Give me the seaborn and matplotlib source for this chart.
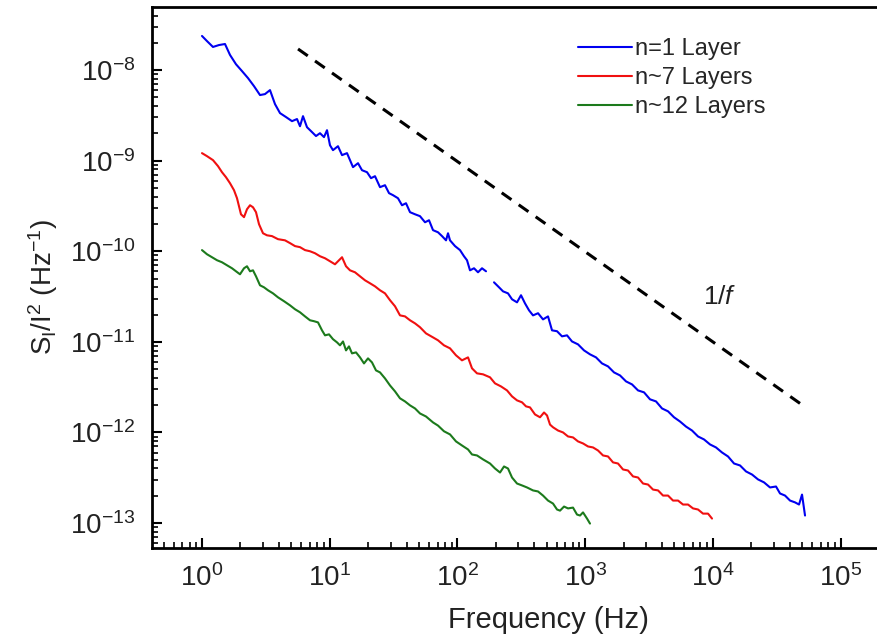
import numpy as np
import pandas as pd
import matplotlib
matplotlib.use("Agg")
import matplotlib.pyplot as plt
import seaborn as sns
from matplotlib.ticker import (FixedLocator, LogLocator, NullFormatter,
                               LogFormatterSciNotation)

# Normalised current noise spectra S_I/I^2 versus frequency for three samples
labels = ["n=1 Layer", "n~7 Layers", "n~12 Layers"]
colors = ["#0000f0", "#f01010", "#1c7a1c"]

# single layer (a NaN marks the missing stretch of the spectrum)
freq_1layer = [1.000, 1.094, 1.219, 1.359, 1.514, 1.657, 1.846, 2.057, 2.292, 2.554,
               2.846, 3.113, 3.408, 3.730, 4.082, 4.549, 5.068, 5.546, 5.853, 6.179,
               6.643, 7.138, 7.811, 8.395, 9.024, 9.526, 10.05,
               10.61, 11.61, 12.49, 13.66, 14.42, 15.22, 16.66, 17.90, 19.60, 21.06,
               22.63, 24.77, 27.10, 29.14, 31.31, 34.25, 36.83, 39.58, 42.55, 46.56,
               50.94, 55.76, 59.94, 64.42, 70.49, 75.76, 81.43, 84.42, 87.52, 95.8,
               104.8, 112.6, 118.9, 125.5, 134.9, 145.0, 155.8, 167.5,
               180.0,
               193.5, 211.8, 227.6, 249.0, 267.7, 292.9, 314.8, 338.3, 363.6, 390.9,
               427.9, 468.1, 512.3, 550.6, 602.6, 659.4, 721.6, 789.5, 879.9, 980.4,
               1092, 1217, 1356, 1511, 1684, 1876, 2091, 2330, 2596, 2893, 3223, 3591,
               4001, 4459, 4968, 5536, 6168, 6873, 7658, 8532, 9509, 10590, 11800,
               13150, 14660, 16330, 18200, 20280, 22590, 25170, 28050, 31250, 33590,
               36760, 40230, 44020, 47320, 49950, 52720]
psd_1layer = [2.38e-8, 2.09e-8, 1.80e-8, 1.89e-8, 1.94e-8, 1.47e-8, 1.16e-8, 9.75e-9,
              8.16e-9, 6.65e-9, 5.30e-9, 5.43e-9, 6.01e-9, 4.21e-9, 3.35e-9, 3.03e-9,
              2.73e-9, 2.88e-9, 2.40e-9, 3.10e-9, 2.34e-9, 2.12e-9, 1.87e-9, 2.01e-9,
              1.82e-9, 2.17e-9, 1.48e-9,
              1.306e-9, 1.445e-9, 1.151e-9, 1.211e-9, 1.014e-9, 8.48e-10, 9.38e-10,
              7.85e-10, 7.46e-10, 6.41e-10, 6.74e-10, 5.10e-10, 5.36e-10, 4.38e-10,
              4.16e-10, 3.85e-10, 3.22e-10, 3.39e-10, 2.70e-10, 2.56e-10, 2.44e-10,
              2.09e-10, 2.20e-10, 1.71e-10, 1.62e-10, 1.47e-10, 1.32e-10, 1.58e-10,
              1.32e-10, 1.14e-10, 1.03e-10, 8.81e-11, 7.96e-11, 6.16e-11, 6.49e-11,
              5.86e-11, 6.49e-11, 6.01e-11,
              np.nan,
              4.54e-11, 4.00e-11, 3.61e-11, 3.43e-11, 2.95e-11, 2.73e-11, 3.27e-11,
              2.66e-11, 2.23e-11, 1.96e-11, 2.07e-11, 1.77e-11, 1.91e-11, 1.34e-11,
              1.31e-11, 1.15e-11, 1.18e-11, 1.01e-11, 9.38e-12, 8.05e-12, 7.28e-12,
              6.74e-12, 5.78e-12, 5.36e-12, 4.60e-12, 4.26e-12, 3.66e-12, 3.39e-12,
              2.91e-12, 2.77e-12, 2.32e-12, 2.20e-12, 1.84e-12, 1.71e-12, 1.47e-12,
              1.32e-12, 1.16e-12, 1.05e-12, 9.03e-13, 8.37e-13, 7.37e-13, 6.83e-13,
              6.01e-13, 5.43e-13, 4.54e-13, 4.32e-13, 3.71e-13, 3.43e-13, 3.03e-13,
              2.81e-13, 2.47e-13, 2.53e-13, 2.12e-13, 2.01e-13, 1.77e-13, 1.69e-13,
              1.60e-13, 2.06e-13, 1.21e-13]

freq_7layers = [1.000, 1.094, 1.219, 1.335, 1.434, 1.541, 1.657, 1.781, 1.880, 2.020,
                2.133, 2.251, 2.377, 2.508, 2.648, 2.795, 3.004, 3.228, 3.533, 3.937,
                4.467, 4.888, 5.350, 5.853, 6.407, 7.010, 7.672, 8.395, 9.189, 10.05,
                11.00, 11.83, 12.49, 13.42, 14.42, 15.78, 17.27, 18.90, 20.69, 22.63,
                24.77, 27.10, 29.67, 32.46, 35.52, 38.87, 42.55, 46.56, 50.94, 56.77,
                64.42, 70.49, 78.52, 87.52, 97.5, 108.6, 121.1, 130.1, 142.4, 158.7,
                180.0, 197.0, 219.5, 244.6, 267.7, 292.9, 320.6, 344.5, 370.2, 405.2,
                443.5, 476.7, 503.2, 531.2, 560.7, 613.5, 671.4, 734.7, 803.9, 879.9,
                962.8, 1054, 1153, 1262, 1381, 1511, 1654, 1809, 1981, 2167, 2372, 2596,
                2841, 3109, 3402, 3724, 4074, 4459, 4879, 5340, 5843, 6394, 6998, 7658,
                8381, 9171, 9856]
psd_7layers = [1.211e-9, 1.122e-9, 1.014e-9, 8.70e-10, 7.46e-10, 6.57e-10, 5.64e-10,
               4.72e-10, 3.85e-10, 2.56e-10, 2.38e-10, 2.91e-10, 3.22e-10, 3.06e-10,
               2.70e-10, 1.99e-10, 1.58e-10, 1.50e-10, 1.47e-10, 1.36e-10, 1.32e-10,
               1.23e-10, 1.14e-10, 1.11e-10, 1.03e-10, 1.00e-10, 9.51e-11, 8.81e-11,
               8.37e-11, 7.76e-11, 7.18e-11, 7.96e-11, 8.59e-11, 6.83e-11, 6.16e-11,
               5.86e-11, 5.29e-11, 4.78e-11, 4.43e-11, 4.10e-11, 3.71e-11, 3.43e-11,
               2.88e-11, 2.47e-11, 1.96e-11, 1.91e-11, 1.73e-11, 1.60e-11, 1.45e-11,
               1.24e-11, 1.12e-11, 1.04e-11, 9.15e-12, 8.48e-12, 7.10e-12, 6.25e-12,
               6.74e-12, 5.10e-12, 4.49e-12, 4.38e-12, 4.06e-12, 3.48e-12, 3.22e-12,
               2.91e-12, 2.50e-12, 2.26e-12, 2.15e-12, 1.94e-12, 1.89e-12, 1.58e-12,
               1.47e-12, 1.66e-12, 1.54e-12, 1.22e-12, 1.14e-12, 1.05e-12, 1.00e-12,
               9.03e-13, 8.81e-13, 7.96e-13, 7.56e-13, 7.00e-13, 6.83e-13, 6.32e-13,
               5.57e-13, 5.43e-13, 4.67e-13, 4.54e-13, 3.90e-13, 3.80e-13, 3.27e-13,
               3.18e-13, 2.73e-13, 2.66e-13, 2.34e-13, 2.29e-13, 2.01e-13, 2.01e-13,
               1.77e-13, 1.77e-13, 1.60e-13, 1.60e-13, 1.45e-13, 1.41e-13, 1.27e-13,
               1.27e-13, 1.12e-13]

freq_12layers = [1.000, 1.094, 1.198, 1.311, 1.434, 1.570, 1.718, 1.846, 1.984, 2.133,
                 2.251, 2.377, 2.508, 2.648, 2.846, 3.058, 3.287, 3.597, 3.937, 4.386,
                 4.888, 5.350, 5.853, 6.407, 7.010, 7.536, 8.099, 8.704, 9.189, 9.874,
                 10.61, 11.41, 12.04, 12.71, 13.42, 14.16, 14.95, 16.07, 17.27, 18.56,
                 19.95, 21.44, 23.04, 24.77, 27.10, 29.67, 32.46, 35.52, 38.87, 42.55,
                 46.56, 50.94, 56.77, 64.42, 70.49, 78.52, 87.52, 97.5, 108.6, 121.1,
                 130.1, 142.4, 158.7, 180.0, 197.0, 215.6, 231.7, 249.0, 267.7, 292.9,
                 320.6, 350.8, 390.9, 427.9, 468.1, 512.3, 560.7, 602.6, 636.0, 683.8,
                 734.7, 803.9, 864.2, 912.5, 962.8, 1035, 1092]
psd_12layers = [1.03e-10, 9.27e-11, 8.59e-11, 7.96e-11, 7.56e-11, 7.00e-11, 6.49e-11,
                6.01e-11, 5.57e-11, 6.49e-11, 6.83e-11, 6.01e-11, 6.16e-11, 5.29e-11,
                4.21e-11, 4.00e-11, 3.71e-11, 3.43e-11, 3.10e-11, 2.81e-11, 2.53e-11,
                2.29e-11, 2.12e-11, 1.91e-11, 1.73e-11, 1.69e-11, 1.64e-11, 1.34e-11,
                1.18e-11, 1.21e-11, 1.07e-11, 9.87e-12, 9.15e-12, 1.01e-11, 8.05e-12,
                8.91e-12, 7.46e-12, 7.65e-12, 6.74e-12, 5.78e-12, 6.57e-12, 5.93e-12,
                4.84e-12, 4.60e-12, 3.95e-12, 3.30e-12, 2.84e-12, 2.38e-12, 2.20e-12,
                1.99e-12, 1.84e-12, 1.62e-12, 1.50e-12, 1.29e-12, 1.19e-12, 1.03e-12,
                9.51e-13, 7.96e-13, 7.18e-13, 6.49e-13, 5.71e-13, 5.57e-13, 5.04e-13,
                4.54e-13, 4.00e-13, 3.61e-13, 4.21e-13, 4.00e-13, 3.18e-13, 2.73e-13,
                2.60e-13, 2.47e-13, 2.29e-13, 2.23e-13, 2.01e-13, 1.77e-13, 1.64e-13,
                1.41e-13, 1.37e-13, 1.52e-13, 1.45e-13, 1.48e-13, 1.24e-13, 1.21e-13,
                1.31e-13, 1.12e-13, 9.86e-14]

# 1/f guide line
guide_freq = [5.65, 48200]
guide_psd = [1.71e-8, 2.09e-12]
guide_text = "1/$\\mathit{f}$"
guide_text_pos = (11380, 3.1e-11)

# labelled decades on each axis
x_decades = [1e0, 1e1, 1e2, 1e3, 1e4, 1e5]
y_decades = [1e-13, 1e-12, 1e-11, 1e-10, 1e-9, 1e-8]

# Long-form table; a NaN in a spectrum splits it into separate segments
rows = []
for lab, fr, ps in zip(labels, [freq_1layer, freq_7layers, freq_12layers],
                       [psd_1layer, psd_7layers, psd_12layers]):
    seg = 0
    for f, s in zip(fr, ps):
        if np.isnan(s):
            seg += 1
            continue
        rows.append((lab, seg, f, s))
df = pd.DataFrame(rows, columns=["sample", "segment", "freq", "psd"])
guide = pd.DataFrame({"freq": guide_freq, "psd": guide_psd})

sns.set_style("ticks")
plt.rcParams["font.family"] = ["Liberation Sans", "DejaVu Sans"]
plt.rcParams["mathtext.fontset"] = "custom"
plt.rcParams["mathtext.rm"] = "Liberation Sans"
plt.rcParams["mathtext.it"] = "Liberation Sans:italic"
plt.rcParams["mathtext.bf"] = "Liberation Sans:bold"

W, H = 877, 642
fig = plt.figure(figsize=(W / 100, H / 100), dpi=100)
ax = fig.add_axes([152 / W, 94 / H, 792 / W, 541 / H])
ax.set_xscale("log")
ax.set_yscale("log")

sns.lineplot(data=df, x="freq", y="psd", hue="sample", hue_order=labels,
             palette=colors, units="segment", estimator=None, sort=False,
             linewidth=1.5, ax=ax)
sns.lineplot(data=guide, x="freq", y="psd", color="black", linewidth=2.2,
             linestyle=(0, (3.9, 2.9)), ax=ax)

ax.text(*guide_text_pos, guide_text, fontsize=19, ha="center", va="center",
        color="#222222")

ax.set_xlim(0.406, 6.46e5)
ax.set_ylim(5.3e-14, 4.97e-8)

for axis, decades in ((ax.xaxis, x_decades), (ax.yaxis, y_decades)):
    axis.set_major_locator(FixedLocator(decades))
    axis.set_major_formatter(LogFormatterSciNotation())
    axis.set_minor_locator(LogLocator(base=10, subs=np.arange(2, 10), numticks=200))
    axis.set_minor_formatter(NullFormatter())

ax.tick_params(which="both", direction="in", top=False, right=False,
               color="black", labelcolor="#222222")
ax.tick_params(which="major", length=7, width=1.5, labelsize=20)
ax.tick_params(which="minor", length=4, width=1.2)
ax.tick_params(axis="x", which="major", pad=12)
ax.tick_params(axis="y", which="major", pad=12)

for side in ("left", "bottom", "top"):
    ax.spines[side].set_linewidth(2.0)
    ax.spines[side].set_color("black")
ax.spines["right"].set_visible(False)

ax.set_xlabel("Frequency (Hz)", fontsize=21, color="#222222", va="center")
ax.xaxis.set_label_coords(0.5, -0.133)
ax.set_ylabel("S$_\\mathrm{I}$/I$^2$ (Hz$^{-1}$)", fontsize=20, color="#222222",
              va="center")
ax.yaxis.set_label_coords(-0.1376, 0.482)

handles, labs = ax.get_legend_handles_labels()
keep = [(h, l) for h, l in zip(handles, labs) if l in labels]
ax.legend([h for h, _ in keep], [l for _, l in keep], loc="upper left",
          bbox_to_anchor=(578 / W, 1 - 38 / H), bbox_transform=fig.transFigure,
          frameon=False, fontsize=17, handlelength=2.3, handletextpad=0.1,
          labelspacing=0.3, borderpad=0, borderaxespad=0)

fig.savefig("out.png", dpi=100)
